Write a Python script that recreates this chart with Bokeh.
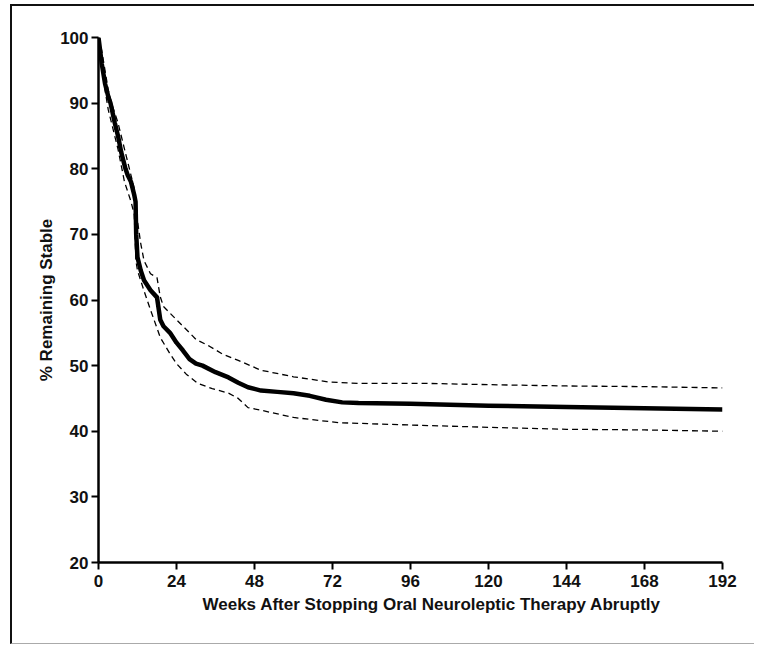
from bokeh.plotting import figure
from bokeh.embed import file_html
from bokeh.resources import INLINE
from bokeh.models import FixedTicker, Range1d, Title

# Kaplan-Meier estimate (% remaining stable) vs weeks
weeks_main = [0, 0.5, 1, 2, 3, 3.7, 5, 6, 7, 8.3, 9, 10, 11, 11.4, 11.6, 12, 13, 14, 16, 18,
              19, 20, 22, 24, 26, 28, 30, 32, 36, 40, 43, 46, 50, 55, 60, 65, 70, 75, 80,
              96, 120, 144, 168, 192]
stable_main = [100, 98, 96, 93, 91, 90, 87, 85, 82.5, 80, 79, 78, 76, 75, 70, 66.5, 64.5, 63,
               61.5, 60.4, 57, 56, 55, 53.5, 52.3, 51, 50.3, 50, 49, 48.2, 47.4, 46.7, 46.2,
               46, 45.8, 45.4, 44.8, 44.4, 44.3, 44.2, 43.9, 43.7, 43.5, 43.3]

# Upper confidence bound
weeks_upper = [0, 1, 2, 3, 4, 6, 8, 10, 11, 12, 13, 14, 16, 18, 19, 20, 22, 26, 30, 34, 38,
               43, 50, 60, 71, 80, 100, 120, 144, 168, 192]
stable_upper = [100, 98, 95, 92, 90, 87, 83, 79, 77, 72, 68.6, 66, 64, 63.4, 60.5, 59, 58, 56,
                54, 53, 51.8, 50.8, 49.3, 48.3, 47.5, 47.3, 47.3, 47.1, 46.9, 46.8, 46.6]

# Lower confidence bound
weeks_lower = [0, 1, 2, 3, 4, 6, 8, 10, 11, 11.5, 12, 14, 16, 19, 22, 24, 27, 30.5, 35, 40,
               43, 46, 50, 60, 74, 99, 120, 144, 168, 192]
stable_lower = [100, 96, 92, 89, 87, 83, 78, 75, 73, 66, 64.5, 61.4, 58.5, 54.3, 51.8, 50.3,
                48.7, 47.3, 46.5, 45.8, 45, 43.6, 43.2, 42.1, 41.3, 40.9, 40.6, 40.3, 40.2, 40]

x_ticks = [0, 24, 48, 72, 96, 120, 144, 168, 192]
y_ticks = [20, 30, 40, 50, 60, 70, 80, 90, 100]
x_title = "Weeks After Stopping Oral Neuroleptic Therapy Abruptly"
y_title = "% Remaining Stable"

FONT = "'Liberation Sans', Arial, sans-serif"

p = figure(width=744, height=640, output_backend="svg", toolbar_location=None,
           x_range=Range1d(0, 192), y_range=Range1d(20, 100),
           min_border_left=86, min_border_right=34, min_border_top=31, min_border_bottom=84)
p.outline_line_color = None
p.border_fill_color = "white"
p.background_fill_color = "white"
p.xgrid.grid_line_color = None
p.ygrid.grid_line_color = None
p.styles = {"border-left": "2px solid #111", "border-top": "2px solid #111",
            "border-bottom": "1px solid #aaa", "border-right": "0px solid transparent",
            "margin-left": "10px", "margin-top": "4px", "overflow": "hidden"}

p.line(weeks_upper, stable_upper, line_color="black", line_width=1.3, line_dash="6 4")
p.line(weeks_lower, stable_lower, line_color="black", line_width=1.3, line_dash="6 4")
p.line(weeks_main, stable_main, line_color="black", line_width=4.5, line_join="round")

for ax in (p.xaxis[0], p.yaxis[0]):
    ax.axis_line_color = "black"
    ax.axis_line_width = 2.5
    ax.major_tick_line_color = "black"
    ax.major_tick_line_width = 2
    ax.major_tick_in = 0
    ax.major_tick_out = 7
    ax.minor_tick_line_color = None
    ax.major_label_text_font = FONT
    ax.major_label_text_font_size = "17px"
    ax.major_label_text_font_style = "bold"
    ax.major_label_text_color = "#111"
    ax.axis_label_text_font = FONT
    ax.axis_label_text_font_size = "17px"
    ax.axis_label_text_font_style = "bold"
    ax.axis_label_text_color = "#111"

p.xaxis.ticker = FixedTicker(ticks=x_ticks)
p.yaxis.ticker = FixedTicker(ticks=y_ticks)
p.yaxis.axis_label = y_title
p.xaxis.major_label_standoff = 5
p.yaxis.major_label_standoff = 3
p.yaxis.axis_label_standoff = 1

p.add_layout(Title(text=x_title, align="left", offset=104, standoff=6,
                   text_font=FONT, text_font_size="17px", text_font_style="bold",
                   text_color="#111"), "below")

open("out.html", "w").write(file_html(p, INLINE))
